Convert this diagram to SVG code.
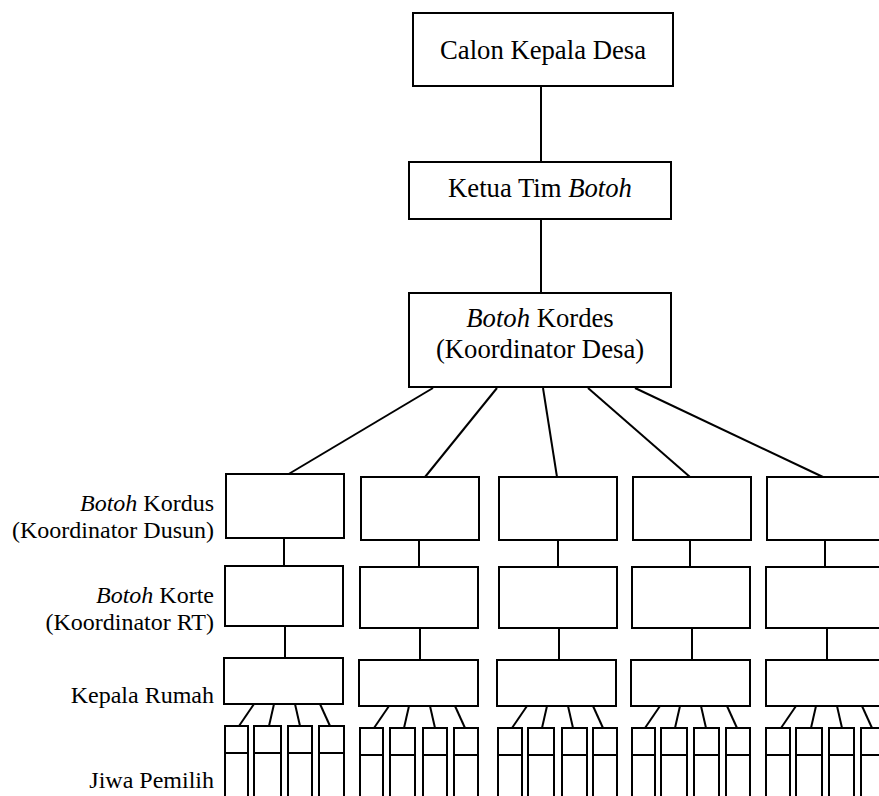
<svg xmlns="http://www.w3.org/2000/svg" width="879" height="796" viewBox="0 0 879 796">
<style>
  .box{fill:#fff;stroke:#000;stroke-width:2}
  .ln{stroke:#000;stroke-width:2;fill:none}
  .t{font-family:"Liberation Serif","Times New Roman",serif;fill:#000}
  .big{font-size:26.7px;text-anchor:middle}
  .lbl{font-size:24px;text-anchor:end}
  .it{font-style:italic}
</style>
<rect width="879" height="796" fill="#fff"/>
<g id="connectors" class="ln">
  <line x1="541" y1="86" x2="541" y2="162"/>
  <line x1="541" y1="219" x2="541" y2="293"/>
  <line x1="433" y1="388" x2="287" y2="475"/>
  <line x1="497" y1="388" x2="425" y2="477"/>
  <line x1="543" y1="388" x2="557" y2="477"/>
  <line x1="588" y1="388" x2="690" y2="477"/>
  <line x1="635" y1="388" x2="823" y2="477"/>
  <line x1="284" y1="538" x2="284" y2="566"/>
  <line x1="419" y1="540" x2="419" y2="567"/>
  <line x1="558" y1="540" x2="558" y2="567"/>
  <line x1="690" y1="540" x2="690" y2="567"/>
  <line x1="825" y1="540" x2="825" y2="567"/>
  <line x1="285" y1="626" x2="285" y2="658"/>
  <line x1="420" y1="628" x2="420" y2="660"/>
  <line x1="559" y1="628" x2="559" y2="660"/>
  <line x1="692" y1="628" x2="692" y2="660"/>
  <line x1="827" y1="628" x2="827" y2="660"/>
  <!-- Kepala to Jiwa -->
  <line x1="254" y1="704" x2="239" y2="726"/><line x1="274" y1="704" x2="269" y2="726"/><line x1="295" y1="704" x2="300" y2="726"/><line x1="320" y1="704" x2="330" y2="726"/>
  <line x1="389" y1="706" x2="374" y2="728"/><line x1="409" y1="706" x2="404" y2="728"/><line x1="430" y1="706" x2="435" y2="728"/><line x1="455" y1="706" x2="465" y2="728"/>
  <line x1="527" y1="706" x2="512" y2="728"/><line x1="547" y1="706" x2="542" y2="728"/><line x1="568" y1="706" x2="573" y2="728"/><line x1="593" y1="706" x2="603" y2="728"/>
  <line x1="660" y1="706" x2="645" y2="728"/><line x1="680" y1="706" x2="675" y2="728"/><line x1="701" y1="706" x2="706" y2="728"/><line x1="727" y1="706" x2="737" y2="728"/>
  <line x1="796" y1="706" x2="781" y2="728"/><line x1="816" y1="706" x2="811" y2="728"/><line x1="837" y1="706" x2="842" y2="728"/><line x1="862" y1="706" x2="872" y2="728"/>
</g>
<g id="calon">
  <rect class="box" x="413" y="13" width="260" height="73"/>
  <text class="t big" x="543" y="59">Calon Kepala Desa</text>
</g>
<g id="ketua">
  <rect class="box" x="409" y="162" width="262" height="57"/>
  <text class="t big" x="540" y="197">Ketua Tim <tspan class="it">Botoh</tspan></text>
</g>
<g id="kordes">
  <rect class="box" x="409" y="293" width="262" height="94"/>
  <text class="t big" x="540" y="327"><tspan class="it">Botoh</tspan> Kordes</text>
  <text class="t big" x="540" y="358">(Koordinator Desa)</text>
</g>
<g id="labels">
  <text class="t lbl" x="214" y="511"><tspan class="it">Botoh</tspan> Kordus</text>
  <text class="t lbl" x="214" y="538">(Koordinator Dusun)</text>
  <text class="t lbl" x="214" y="603"><tspan class="it">Botoh</tspan> Korte</text>
  <text class="t lbl" x="214" y="630">(Koordinator RT)</text>
  <text class="t lbl" x="214" y="703">Kepala Rumah</text>
  <text class="t lbl" x="214" y="788">Jiwa Pemilih</text>
</g>
<g id="kordus-1"><rect class="box" x="226" y="474" width="118" height="64"/></g>
<g id="kordus-2"><rect class="box" x="361" y="477" width="118" height="63"/></g>
<g id="kordus-3"><rect class="box" x="499" y="477" width="118" height="63"/></g>
<g id="kordus-4"><rect class="box" x="633" y="477" width="118" height="63"/></g>
<g id="kordus-5"><rect class="box" x="767" y="477" width="118" height="63"/></g>
<g id="korte-1"><rect class="box" x="225" y="566" width="118" height="60"/></g>
<g id="korte-2"><rect class="box" x="360" y="567" width="118" height="61"/></g>
<g id="korte-3"><rect class="box" x="499" y="567" width="118" height="61"/></g>
<g id="korte-4"><rect class="box" x="632" y="567" width="118" height="61"/></g>
<g id="korte-5"><rect class="box" x="766" y="567" width="118" height="61"/></g>
<g id="kepala-1"><rect class="box" x="224" y="658" width="119" height="46"/></g>
<g id="kepala-2"><rect class="box" x="359" y="660" width="119" height="46"/></g>
<g id="kepala-3"><rect class="box" x="497" y="660" width="119" height="46"/></g>
<g id="kepala-4"><rect class="box" x="631" y="660" width="119" height="46"/></g>
<g id="kepala-5"><rect class="box" x="766" y="660" width="119" height="46"/></g>
<g id="jiwa-1" class="ln">
  <rect class="box" x="225" y="726" width="23" height="90"/><rect class="box" x="254" y="726" width="27" height="90"/><rect class="box" x="288" y="726" width="24" height="90"/><rect class="box" x="319" y="726" width="25" height="90"/>
  <path d="M225 753H248M254 753H281M288 753H312M319 753H344"/>
</g>
<g id="jiwa-2" class="ln">
  <rect class="box" x="360" y="728" width="23" height="90"/><rect class="box" x="390" y="728" width="25" height="90"/><rect class="box" x="423" y="728" width="24" height="90"/><rect class="box" x="454" y="728" width="24" height="90"/>
  <path d="M360 755H383M390 755H415M423 755H447M454 755H478"/>
</g>
<g id="jiwa-3" class="ln">
  <rect class="box" x="498" y="728" width="24" height="90"/><rect class="box" x="528" y="728" width="26" height="90"/><rect class="box" x="562" y="728" width="25" height="90"/><rect class="box" x="593" y="728" width="24" height="90"/>
  <path d="M498 755H522M528 755H554M562 755H587M593 755H617"/>
</g>
<g id="jiwa-4" class="ln">
  <rect class="box" x="632" y="728" width="23" height="90"/><rect class="box" x="661" y="728" width="26" height="90"/><rect class="box" x="694" y="728" width="25" height="90"/><rect class="box" x="726" y="728" width="24" height="90"/>
  <path d="M632 755H655M661 755H687M694 755H719M726 755H750"/>
</g>
<g id="jiwa-5" class="ln">
  <rect class="box" x="766" y="728" width="24" height="90"/><rect class="box" x="796" y="728" width="26" height="90"/><rect class="box" x="829" y="728" width="25" height="90"/><rect class="box" x="861" y="728" width="24" height="90"/>
  <path d="M766 755H790M796 755H822M829 755H854M861 755H885"/>
</g>
</svg>
